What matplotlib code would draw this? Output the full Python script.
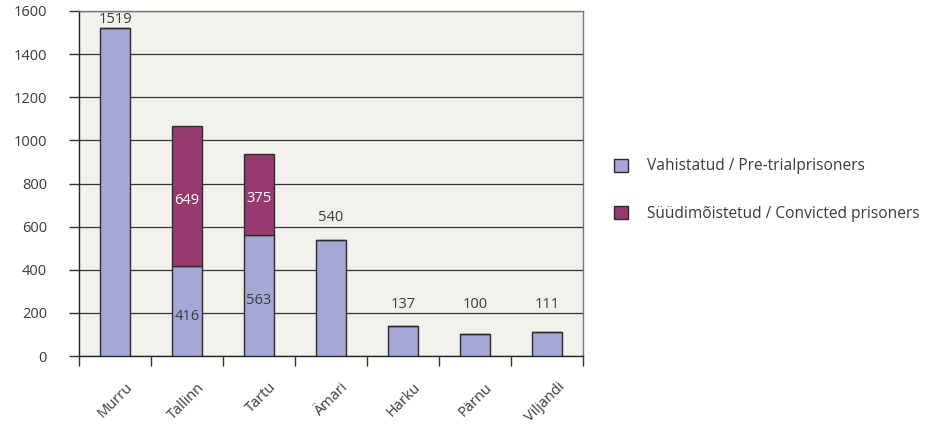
import matplotlib
matplotlib.use("Agg")
import matplotlib.pyplot as plt
import numpy as np

# data
prisons = ["Murru", "Tallinn", "Tartu", "Ämari", "Harku", "Pärnu", "Viljandi"]
pretrial = [1519, 416, 563, 540, 137, 100, 111]
convicted = [0, 649, 375, 0, 0, 0, 0]
yticks = [0, 200, 400, 600, 800, 1000, 1200, 1400, 1600]

C_PRE = "#A5A7D5"
C_CONV = "#963A6F"
C_EDGE = "#2b2b2b"
C_TEXT = "#3a3a3a"
BG = "#F2F1EC"

plt.rcParams["font.family"] = ["Open Sans", "DejaVu Sans"]

fig = plt.figure(figsize=(9.38, 4.25), dpi=100)
ax = fig.add_axes([79/938, 69/425, 504/938, 345/425])
ax.set_facecolor(BG)

x = np.arange(len(prisons))
w = 0.42
pre = np.array(pretrial)
conv = np.array(convicted)

ax.bar(x, pre, w, color=C_PRE, edgecolor=C_EDGE, lw=1, zorder=3,
       label="Vahistatud / Pre-trialprisoners")
ax.bar(x, conv, w, bottom=pre, color=C_CONV, edgecolor=C_EDGE, lw=1, zorder=3,
       label="Süüdimõistetud / Convicted prisoners")

# value labels
for xi, p, c in zip(x, pre, conv):
    if c > 0:
        ax.text(xi, p / 2 - 25, str(p), ha="center", va="center",
                fontsize=10.5, color=C_TEXT, zorder=4)
        ax.text(xi, p + c / 2 - 18, str(c), ha="center", va="center",
                fontsize=10.5, color="white", zorder=4)
    else:
        ypos = min(max(p, 137) + 102, 1562)
        ax.text(xi, ypos, str(p), ha="center", va="center",
                fontsize=10.5, color=C_TEXT, zorder=4)

ax.set_xlim(-0.5, len(prisons) - 0.5)
ax.set_ylim(0, 1600)
ax.set_yticks(yticks)
ax.set_yticklabels([str(v) for v in yticks])
ax.yaxis.grid(True, color="#333333", lw=0.9, zorder=1)
ax.set_axisbelow(True)

# category labels, rotated, drawn under each bar
ax.set_xticks(np.arange(len(prisons) + 1) - 0.5)
ax.set_xticklabels([])
for xi, name in zip(x, prisons):
    ax.annotate(name, xy=(xi, 0), xycoords=ax.get_xaxis_transform(),
                xytext=(11, -21), textcoords="offset points",
                rotation=45, ha="right", va="center", rotation_mode="anchor",
                fontsize=10.5, color=C_TEXT)
ax.tick_params(axis="x", length=7, width=1, color="#333333", direction="out")
ax.tick_params(axis="y", length=7, width=1, color="#333333", direction="out",
               labelsize=10.5, labelcolor=C_TEXT, pad=16)

for side in ["left", "bottom"]:
    ax.spines[side].set_color("#222222")
    ax.spines[side].set_linewidth(1)
for side in ["top", "right"]:
    ax.spines[side].set_color("#777777")
    ax.spines[side].set_linewidth(1)

handles, labels = ax.get_legend_handles_labels()
fig.legend(handles, labels, loc="upper left", bbox_to_anchor=(0.640, 0.660),
           frameon=False, fontsize=11.2, labelspacing=2.0, handlelength=0.9,
           handleheight=0.9, handletextpad=1.2, labelcolor=C_TEXT)

fig.savefig("out.png", dpi=100)
